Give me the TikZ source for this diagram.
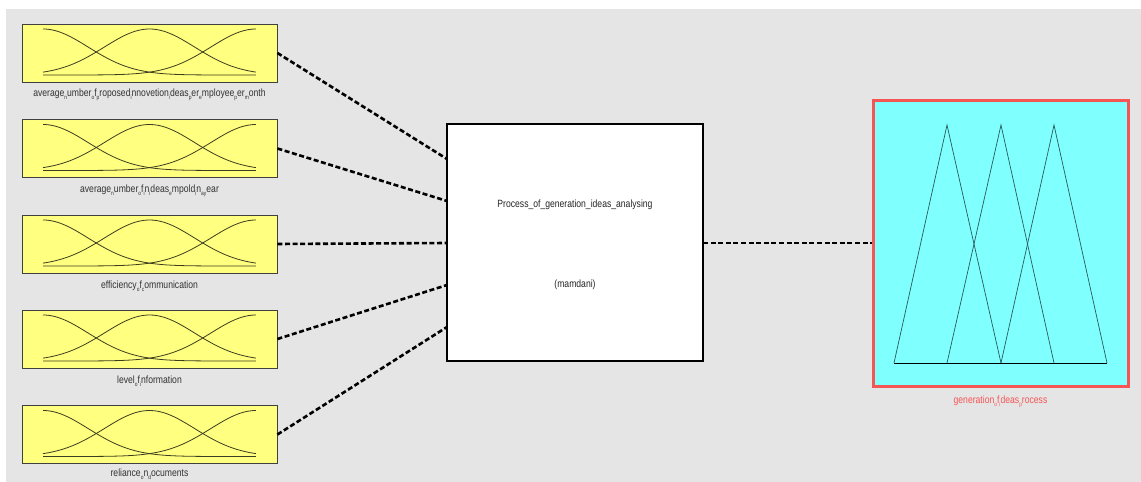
\documentclass[tikz,border=0pt]{standalone}
\usepackage{fontspec}
\setmainfont{Liberation Sans}
\newfontfamily\mfont[FakeStretch=0.82]{Liberation Sans}
\definecolor{bggray}{RGB}{229,229,229}
\definecolor{inyellow}{RGB}{255,255,128}
\definecolor{outcyan}{RGB}{128,255,255}
\definecolor{outred}{RGB}{245,85,85}
\definecolor{triline}{RGB}{40,90,90}
\definecolor{mfcol}{RGB}{60,60,30}
\newcommand{\lsub}[1]{\raisebox{-3.4pt}{\fontsize{6}{6}\selectfont #1}}
\newcommand{\mfcurves}[1]{%
  \draw[mfline] plot[domain=0:1,samples=70] ({43+213*\x},{#1+51-46*exp(0-(\x*\x)/0.09015)});
  \draw[mfline] plot[domain=0:1,samples=70] ({43+213*\x},{#1+51-46*exp(0-((\x-0.5)*(\x-0.5))/0.09015)});
  \draw[mfline] plot[domain=0:1,samples=70] ({43+213*\x},{#1+51-46*exp(0-((\x-1)*(\x-1))/0.09015)});
}
\tikzset{
  inbox/.style={draw=black!75, line width=0.8pt, fill=inyellow, minimum width=255pt, minimum height=58pt, inner sep=0pt},
  fisbox/.style={draw=black, line width=2pt, fill=white, minimum width=256pt, minimum height=237pt, inner sep=0pt},
  outbox/.style={draw=outred, line width=3pt, fill=outcyan, minimum width=255pt, minimum height=286pt, inner sep=0pt},
  lab/.style={font=\mfont\fontsize{10.5}{12}\selectfont, text=black!80, inner sep=0pt},
  outlab/.style={font=\mfont\fontsize{10.5}{12}\selectfont, text=outred, inner sep=0pt},
  fistext/.style={font=\mfont\fontsize{10.5}{12}\selectfont, text=black!85, inner sep=0pt},
  mfline/.style={draw=mfcol, line width=0.8pt},
  triangle/.style={draw=triline, line width=0.7pt},
  conn/.style={draw=black, line width=2.6pt, dash pattern=on 5pt off 2.6pt},
}
\begin{document}
\begin{tikzpicture}[x=1pt,y=-1pt]
\useasboundingbox (0,0) rectangle (1141,482);
\fill[white] (0,0) rectangle (1141,482);
\fill[bggray] (6,9) rectangle (1141,482);

% input boxes
\node[inbox] (in1) at (149.5,53) {};
\node[inbox] (in2) at (149.5,148.5) {};
\node[inbox] (in3) at (149.5,244) {};
\node[inbox] (in4) at (149.5,339) {};
\node[inbox] (in5) at (149.5,434.5) {};
\mfcurves{24}
\mfcurves{119.5}
\mfcurves{215}
\mfcurves{310}
\mfcurves{405.5}

\node[lab] (l1) at (149.5,95) {average\lsub{n}umber\lsub{o}f\lsub{p}roposed\lsub{i}nnovetion\lsub{i}deas\lsub{p}er\lsub{e}mployee\lsub{p}er\lsub{m}onth};
\node[lab] (l2) at (149.5,191) {average\lsub{n}umber\lsub{o}f\lsub{i}n\lsub{i}deas\lsub{e}mpold\lsub{i}n\lsub{a}\lsub{y}ear};
\node[lab] (l3) at (149.5,286) {efficiency\lsub{o}f\lsub{c}ommunication};
\node[lab] (l4) at (149.5,381) {level\lsub{o}f\lsub{i}nformation};
\node[lab] (l5) at (149.5,474.5) {reliance\lsub{o}n\lsub{d}ocuments};

% FIS box
\node[fisbox] (fis) at (575,242.5) {};
\node[fistext] (fisname) at (575,205) {Process\_of\_generation\_ideas\_analysing};
\node[fistext] (fistype) at (575,285) {(mamdani)};

% output box
\node[outbox] (out) at (1000.5,243) {};
\draw[triangle] (894,363) -- (947,125) -- (1001,363);
\draw[triangle] (947,363) -- (1001,125) -- (1054,363);
\draw[triangle] (1001,363) -- (1054,125) -- (1107,363);
\draw[black, line width=0.7pt] (894,363) -- (1107,363);
\node[outlab] (ol) at (1000.5,402) {generation\lsub{o}f\lsub{i}deas\lsub{p}rocess};

% connectors
\coordinate (p1) at (447,159);
\coordinate (p2) at (447,201);
\coordinate (p3) at (447,243);
\coordinate (p4) at (447,285);
\coordinate (p5) at (447,327);
\draw[conn] (in1.east) -- (p1);
\draw[conn] (in2.east) -- (p2);
\draw[conn] (in3.east) -- (p3);
\draw[conn] (in4.east) -- (p4);
\draw[conn] (in5.east) -- (p5);
\coordinate (q) at (703,243);
\draw[conn] (q) -- (out.west |- q);
\end{tikzpicture}
\end{document}
